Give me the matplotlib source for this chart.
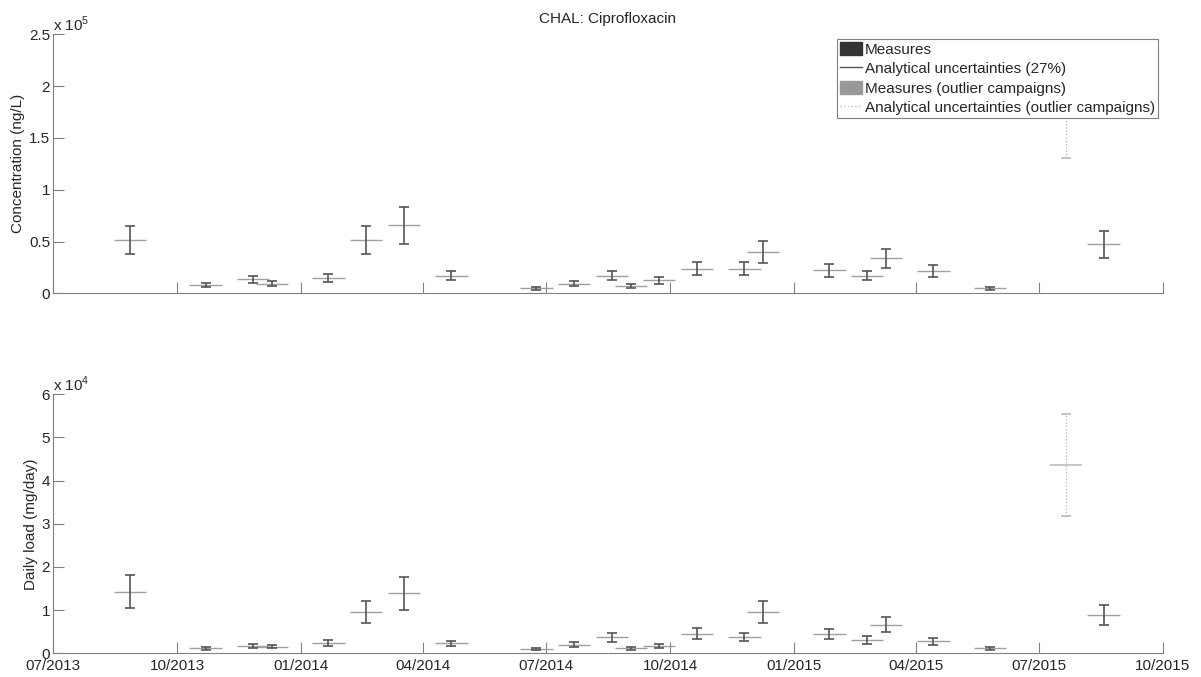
import numpy as np
import matplotlib.pyplot as plt
import matplotlib.dates as mdates
from matplotlib.patches import Patch
from matplotlib.lines import Line2D
from matplotlib.ticker import FuncFormatter
from datetime import datetime

plt.rcParams['font.family'] = ['Liberation Sans', 'DejaVu Sans']
plt.rcParams['mathtext.fontset'] = 'custom'
plt.rcParams['mathtext.rm'] = 'Liberation Sans'

# Campañas de muestreo
fechas = ['2013-08-27', '2013-10-22', '2013-11-26', '2013-12-10', '2014-01-21',
          '2014-02-18', '2014-03-18', '2014-04-22', '2014-06-24', '2014-07-22',
          '2014-08-19', '2014-09-02', '2014-09-23', '2014-10-21', '2014-11-25',
          '2014-12-09', '2015-01-27', '2015-02-24', '2015-03-10', '2015-04-14',
          '2015-05-26', '2015-07-21', '2015-08-18']

# Concentración (ng/L)
conc = [51400, 8000, 13500, 9300, 15000, 51500, 65600, 17000, 4800, 9300,
        17000, 7000, 12500, 23800, 23800, 40000, 22200, 17000, 34000, 21500,
        4800, 179300, 47300]

# Carga diaria (mg/day)
carga = [14270, 1160, 1760, 1530, 2460, 9570, 13900, 2320, 930, 2000,
         3700, 1160, 1620, 4540, 3780, 9500, 4470, 3080, 6630, 2780,
         1160, 43700, 8870]

# Campañas atípicas
atipica = [False] * 21 + [True, False]

incert = 0.27   # incertidumbre analítica
ancho = 12      # medio ancho de la marca (días)

dias = mdates.date2num([datetime.strptime(f, '%Y-%m-%d') for f in fechas])
ticks_x = mdates.date2num([datetime(2013, 7, 1), datetime(2013, 10, 1), datetime(2014, 1, 1),
                           datetime(2014, 4, 1), datetime(2014, 7, 1), datetime(2014, 10, 1),
                           datetime(2015, 1, 1), datetime(2015, 4, 1), datetime(2015, 7, 1),
                           datetime(2015, 10, 1)])

gris_eje = '#808080'
gris_txt = '#262626'
fs = 11


def dibujar(ax, valores):
    for d, v, out in zip(dias, valores, atipica):
        if out:
            ax.hlines(v, d - ancho, d + ancho, color='#c8c8c8', lw=1.4, zorder=2)
            eb = ax.errorbar(d, v, yerr=incert * v, fmt='none', ecolor='#b4b4b4',
                             elinewidth=0.9, capsize=3.3, capthick=1.1, zorder=3)
            eb[2][0].set_linestyle(':')
        else:
            ax.hlines(v, d - ancho, d + ancho, color='#a0a0a0', lw=1.0, zorder=2)
            ax.errorbar(d, v, yerr=incert * v, fmt='none', ecolor='#555555',
                        elinewidth=1.2, capsize=3.3, capthick=1.2, zorder=3)

    ax.set_xlim(ticks_x[0], ticks_x[-1])
    ax.set_xticks(ticks_x)
    ax.xaxis.set_major_formatter(mdates.DateFormatter('%m/%Y'))
    for s in ['top', 'right']:
        ax.spines[s].set_visible(False)
    for s in ['left', 'bottom']:
        ax.spines[s].set_color(gris_eje)
        ax.spines[s].set_linewidth(0.8)
    ax.tick_params(direction='in', length=8, width=0.8, color=gris_eje,
                   labelcolor=gris_txt, labelsize=fs, pad=2)
    ax.tick_params(axis='x', pad=4)


fig = plt.figure(figsize=(12.01, 6.77), dpi=100)
ax1 = fig.add_axes([0.0441, 0.5667, 0.9242, 0.3826])
ax2 = fig.add_axes([0.0441, 0.035, 0.9242, 0.3826])

dibujar(ax1, conc)
ax1.set_ylim(0, 2.5e5)
ax1.set_yticks(np.arange(0, 2.51e5, 0.5e5))
ax1.yaxis.set_major_formatter(FuncFormatter(lambda v, p: f'{v / 1e5:g}'))
ax1.tick_params(axis='x', labelbottom=False)
ax1.set_ylabel('Concentration (ng/L)', fontsize=fs, color=gris_txt, labelpad=3)
ax1.text(0, 1.0, 'x 10$^{5}$', transform=ax1.transAxes, ha='left', va='bottom',
         fontsize=fs, color=gris_txt)
ax1.set_title('CHAL: Ciprofloxacin', fontsize=fs, color=gris_txt, pad=8)

dibujar(ax2, carga)
ax2.set_ylim(0, 6e4)
ax2.set_yticks(np.arange(0, 6.01e4, 1e4))
ax2.yaxis.set_major_formatter(FuncFormatter(lambda v, p: f'{v / 1e4:g}'))
ax2.set_ylabel('Daily load (mg/day)', fontsize=fs, color=gris_txt, labelpad=3)
ax2.text(0, 1.0, 'x 10$^{4}$', transform=ax2.transAxes, ha='left', va='bottom',
         fontsize=fs, color=gris_txt)

handles = [Patch(facecolor='#333333', edgecolor='#333333'),
           Line2D([], [], color='#555555', lw=1.0),
           Patch(facecolor='#999999', edgecolor='#999999'),
           Line2D([], [], color='#c0c0c0', lw=1.0, ls=':')]
etiquetas = ['Measures', 'Analytical uncertainties (27%)',
             'Measures (outlier campaigns)', 'Analytical uncertainties (outlier campaigns)']
leg = ax1.legend(handles, etiquetas, loc='upper right', fontsize=fs, fancybox=False,
                 edgecolor=gris_eje, framealpha=1, borderpad=0.2, labelspacing=0.3,
                 handlelength=1.45, handleheight=0.95, handletextpad=0.2, borderaxespad=0.3)
leg.get_frame().set_linewidth(0.8)
for t in leg.get_texts():
    t.set_color(gris_txt)

fig.savefig('out.png', dpi=100)
